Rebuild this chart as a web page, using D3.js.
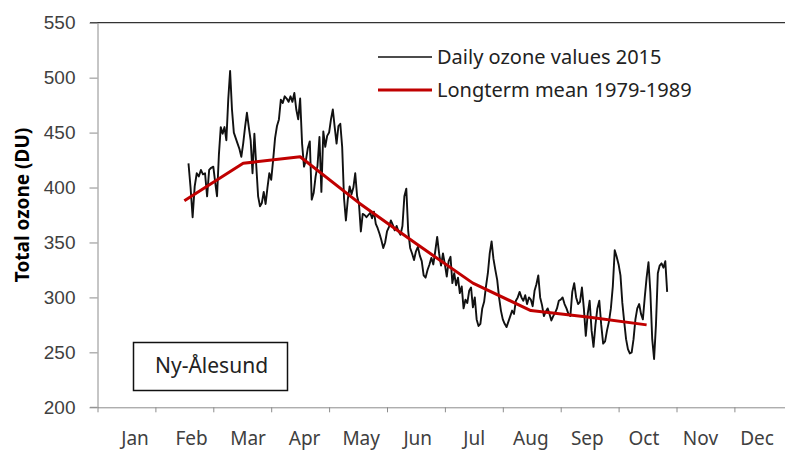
<!DOCTYPE html>
<html lang="en">
<head>
    <meta charset="UTF-8">
    <script src="https://cdnjs.cloudflare.com/ajax/libs/d3/7.8.5/d3.min.js"></script>
    <style>
        body { margin: 0; background: #fff; }
        svg { font-family: "Noto Sans", sans-serif; }
        .axis path.domain { stroke: #8c8c8c; }
        .axis .tick line { stroke: #8c8c8c; }
        .axis .tick text { fill: #404040; font-size: 19px; }
    </style>
</head>
<body>
    <svg width="785" height="450"></svg>
    <script>
        // month labels and month boundaries (day of year, 2015)
        const months = ['Jan', 'Feb', 'Mar', 'Apr', 'May', 'Jun', 'Jul', 'Aug', 'Sep', 'Oct', 'Nov', 'Dec'];
        const monthStarts = [0, 31, 59, 90, 120, 151, 181, 212, 243, 273, 304, 334, 365];
        const yTicks = [200, 250, 300, 350, 400, 450, 500, 550];

        // longterm monthly mean 1979-1989 (mid-month)
        const meanDays = [45, 75, 105, 136, 166, 196, 227, 258, 288];
        const meanValues = [388, 422, 428, 386, 349, 313, 288, 282, 275];

        // daily ozone values 2015, first value is day 47
        const dailyFirstDay = 47;
        const dailyValues = [
            422, 400, 373, 401, 413, 410, 416, 412, 413, 392, 416, 418, 419, 405,
            392, 430, 455, 449, 455, 443, 480, 506, 471, 450, 445, 440, 435, 428,
            440, 455, 468, 455, 443, 413, 449, 420, 392, 383, 386, 396, 385, 400,
            413, 407, 425, 445, 456, 462, 480, 477, 483, 481, 478, 483, 478, 486,
            471, 462, 481, 440, 419, 425, 436, 442, 389, 395, 410, 420, 446, 396,
            451, 437, 447, 450, 462, 471, 455, 440, 456, 458, 437, 390, 370, 389,
            401, 394, 400, 413, 392, 385, 360, 376, 375, 373, 375, 377, 372, 378,
            367, 363, 358, 352, 345, 350, 360, 364, 370, 366, 361, 365, 360, 357,
            365, 392, 399, 360, 345, 340, 334, 342, 346, 338, 333, 320, 318, 325,
            330, 336, 330, 342, 355, 340, 329, 340, 330, 319, 333, 337, 313, 322,
            311, 318, 304, 310, 290, 298, 295, 306, 309, 291, 300, 280, 274, 276,
            290, 296, 310, 322, 340, 351, 335, 325, 316, 300, 288, 280, 276, 273,
            278, 283, 288, 285, 297, 300, 305, 300, 297, 302, 294, 300, 298, 292,
            306, 312, 320, 300, 293, 283, 287, 290, 285, 279, 283, 286, 290, 297,
            298, 300, 294, 290, 285, 283, 305, 313, 300, 294, 296, 309, 290, 265,
            285, 297, 270, 255, 275, 290, 297, 275, 258, 260, 270, 278, 290, 310,
            343, 337, 330, 320, 295, 278, 262, 253, 249, 250, 262, 280, 290, 294,
            285, 280, 300, 318, 332, 305, 262, 244, 275, 322, 329, 331, 327, 333,
            305
        ];

        const svg = d3.select('svg');

        const left = 97.5, monthWidth = 57.9;
        const xScale = d3.scaleLinear()
            .domain(monthStarts)
            .range(monthStarts.map((d, i) => left + i * monthWidth));
        const yScale = d3.scaleLinear().domain([200, 550]).range([407.3, 22.7]);
        const labelScale = d3.scalePoint().domain(months).range([135, 757]);

        // top line at 550
        svg.append('line')
            .attr('x1', 90).attr('x2', 785)
            .attr('y1', yScale(550)).attr('y2', yScale(550))
            .attr('stroke', '#333').attr('stroke-width', 1.2);

        const yAxis = d3.axisLeft(yScale)
            .tickValues(yTicks)
            .tickSize(8)
            .tickSizeOuter(0)
            .tickPadding(14);
        svg.append('g').attr('class', 'axis')
            .attr('transform', `translate(${left},0)`)
            .call(yAxis);

        const xAxis = d3.axisBottom(xScale)
            .tickValues(monthStarts)
            .tickFormat('')
            .tickSize(5)
            .tickSizeOuter(0);
        svg.append('g').attr('class', 'axis')
            .attr('transform', `translate(0,${yScale(200)})`)
            .call(xAxis);
        svg.append('line')
            .attr('x1', 90).attr('x2', left)
            .attr('y1', yScale(200)).attr('y2', yScale(200))
            .attr('stroke', '#8c8c8c');

        svg.append('g').selectAll('text')
            .data(months)
            .enter().append('text')
            .attr('x', d => labelScale(d))
            .attr('y', 445)
            .attr('text-anchor', 'middle')
            .attr('fill', '#404040')
            .style('font-size', '19px')
            .text(d => d);

        svg.append('text')
            .attr('transform', 'translate(29,205) rotate(-90)')
            .attr('text-anchor', 'middle')
            .style('font-size', '19px')
            .style('font-weight', 'bold')
            .text('Total ozone (DU)');

        // daily line
        const daily = dailyValues.map((v, i) => ({ day: dailyFirstDay + i, value: v }));
        const line = d3.line()
            .x(d => xScale(d.day))
            .y(d => yScale(d.value));
        svg.append('path')
            .attr('d', line(daily))
            .attr('fill', 'none')
            .attr('stroke', '#111')
            .attr('stroke-width', 1.9)
            .attr('stroke-linejoin', 'round');

        // longterm mean
        const mean = meanDays.map((d, i) => ({ day: d, value: meanValues[i] }));
        const meanLine = d3.line()
            .x(d => xScale(d.day))
            .y(d => yScale(d.value));
        svg.append('path')
            .attr('d', meanLine(mean))
            .attr('fill', 'none')
            .attr('stroke', '#c00000')
            .attr('stroke-width', 3)
            .attr('stroke-linejoin', 'round');

        // legend
        const legend = svg.append('g');
        [['Daily ozone values 2015', '#111', 1.6, 57], ['Longterm mean 1979-1989', '#c00000', 3, 90]]
            .forEach(([label, color, w, y]) => {
                legend.append('line')
                    .attr('x1', 378).attr('x2', 432)
                    .attr('y1', y).attr('y2', y)
                    .attr('stroke', color).attr('stroke-width', w);
                legend.append('text')
                    .attr('x', 437).attr('y', y + 7)
                    .attr('fill', '#222')
                    .style('font-size', '20px')
                    .text(label);
            });

        // station box
        svg.append('rect')
            .attr('x', 133.5).attr('y', 342.5)
            .attr('width', 154).attr('height', 48)
            .attr('fill', '#fff')
            .attr('stroke', '#111').attr('stroke-width', 1.5);
        svg.append('text')
            .attr('x', 155).attr('y', 373)
            .attr('fill', '#222')
            .style('font-size', '21px')
            .text('Ny-Ålesund');
    </script>
</body>
</html>
